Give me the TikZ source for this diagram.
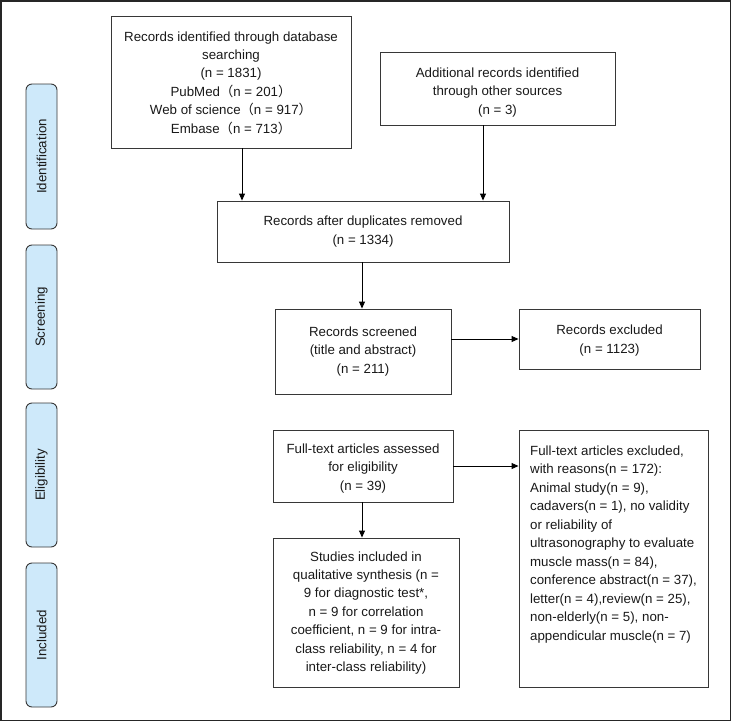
\documentclass[tikz,border=0pt]{standalone}
\usepackage{fontspec}
\setmainfont{Liberation Sans}
\newfontfamily\cjkfont{Noto Sans CJK SC}
\usetikzlibrary{arrows.meta}
\newcommand{\lpar}{{\cjkfont （}}
\newcommand{\rpar}{{\cjkfont ）}}
\definecolor{lineclr}{RGB}{55,55,55}
\definecolor{textclr}{RGB}{25,25,25}
\definecolor{stagefill}{RGB}{206,233,250}
\begin{document}
\begin{tikzpicture}[x=1pt,y=-1pt,
  font=\fontsize{13.3}{18.45}\selectfont,
  box/.style={draw=lineclr, line width=0.9pt, inner sep=0pt, text=textclr, text depth=0pt},
  lastline/.style={text height=#1},
  stage/.style={draw=lineclr, line width=0.9pt, fill=stagefill, rounded corners=6pt,
    rotate=90, minimum height=31pt, inner sep=0pt, text=textclr},
  arr/.style={draw=black, line width=0.9pt, -{Triangle[length=7pt,width=6pt]}}]
\useasboundingbox (0,0) rectangle (734,723);
\draw[line width=1.5pt, draw=black!85] (1,1) rectangle (730.5,720.5);

% stage labels
\node[stage, minimum width=145pt] (ident) at (41.5,156.5) {Identification};
\node[stage, minimum width=144pt] (screen) at (41.5,317) {Screening};
\node[stage, minimum width=144pt] (elig) at (41.5,475) {Eligibility};
\node[stage, minimum width=144pt] (incl) at (41.5,635) {Included};

% boxes
\node[box, align=center, lastline=102.6pt, minimum width=240pt, minimum height=132pt] (dbrec) at (231,82)
  {Records identified through database\\searching\\(n = 1831)\\PubMed\lpar n = 201\rpar\\Web of science\lpar n = 917\rpar\\Embase\lpar n = 713\rpar};
\node[box, align=center, lastline=51pt, minimum width=235pt, minimum height=73pt] (other) at (497.5,88.5)
  {Additional records identified\\through other sources\\(n = 3)};
\node[box, align=center, lastline=25pt, minimum width=292pt, minimum height=61pt] (dedup) at (363,231.5)
  {Records after duplicates removed\\(n = 1334)};
\node[box, align=center, lastline=43pt, minimum width=176pt, minimum height=85pt] (screened) at (363,351.5)
  {Records screened\\(title and abstract)\\(n = 211)};
\node[box, align=center, lastline=28pt, minimum width=181pt, minimum height=60pt] (excl) at (609.5,339)
  {Records excluded\\(n = 1123)};
\node[box, align=center, lastline=48pt, minimum width=180pt, minimum height=72pt] (fulltext) at (363,466)
  {Full-text articles assessed\\for eligibility\\(n = 39)};
\node[box, align=left, lastline=163pt, minimum width=189pt, minimum height=257pt] (ftexcl) at (613.5,558.5)
  {Full-text articles excluded,\\with reasons(n = 172):\\Animal study(n = 9),\\cadavers(n = 1), no validity\\or reliability of\\ultrasonography to evaluate\\muscle mass(n = 84),\\conference abstract(n = 37),\\letter(n = 4),review(n = 25),\\non-elderly(n = 5), non-\\appendicular muscle(n = 7)};
\node[box, align=center, lastline=118.4pt, minimum width=186pt, minimum height=149pt] (included) at (366,612.5)
  {Studies included in\\qualitative synthesis (n =\\9 for diagnostic test*,\\n = 9 for correlation\\coefficient, n = 9 for intra-\\class reliability, n = 4 for\\inter-class reliability)};

% connectors
\draw[arr] ([xshift=11pt]dbrec.south) -- ([xshift=11pt]dbrec.south |- dedup.north);
\draw[arr] ([xshift=-14.5pt]other.south) -- ([xshift=-14.5pt]other.south |- dedup.north);
\draw[arr] ([xshift=-1pt]dedup.south) -- ([xshift=-1pt]screened.north);
\draw[arr] (screened.east |- excl.west) -- (excl.west);
\draw[arr] (fulltext.east) -- (fulltext.east -| ftexcl.west);
\draw[arr] ([xshift=-1pt]fulltext.south) -- ([xshift=-1pt]fulltext.south |- included.north);
\end{tikzpicture}
\end{document}
